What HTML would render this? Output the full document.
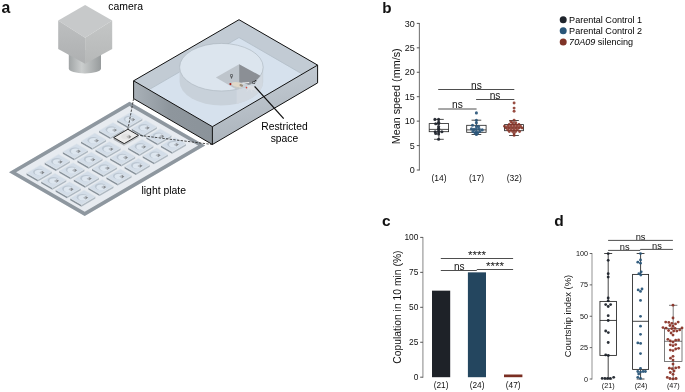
<!DOCTYPE html>
<html><head><meta charset="utf-8"><title>Figure</title>
<style>html,body{margin:0;padding:0;background:#fff}svg{display:block}</style></head>
<body>
<svg width="685" height="392" viewBox="0 0 685 392" font-family='"Liberation Sans", Arial, Helvetica, sans-serif'>
<defs>
<linearGradient id="cyl" x1="0" x2="1" y1="0" y2="0"><stop offset="0" stop-color="#a0a4a5"/><stop offset="0.4" stop-color="#cbcece"/><stop offset="1" stop-color="#979b9c"/></linearGradient>
<linearGradient id="camL" x1="0" x2="0" y1="0" y2="1"><stop offset="0" stop-color="#bdbfc0"/><stop offset="1" stop-color="#aeb0b1"/></linearGradient>
<linearGradient id="camR" x1="0" x2="0" y1="0" y2="1"><stop offset="0" stop-color="#c4c6c6"/><stop offset="1" stop-color="#b6b8b8"/></linearGradient>
<linearGradient id="boxR" x1="0" x2="0.25" y1="0" y2="1"><stop offset="0" stop-color="#c8d0d8"/><stop offset="1" stop-color="#abb3bb"/></linearGradient>
<linearGradient id="boxL" x1="0" x2="1" y1="0" y2="0"><stop offset="0" stop-color="#a9b1b8"/><stop offset="0.45" stop-color="#8e969d"/><stop offset="1" stop-color="#8b939a"/></linearGradient>
<clipPath id="topclip"><polygon points="239,19.7 133.6,80.8 212.4,126.7 317.6,65.1"/></clipPath>
</defs>
<rect width="685" height="392" fill="#fff"/>
<text x="1.60" y="13.00" font-size="15.8" text-anchor="start" fill="#111" font-weight="bold" >a</text>
<text x="108.30" y="9.50" font-size="10.4" text-anchor="start" fill="#000" font-weight="normal" >camera</text>
<path d="M68.8,50 L68.8,68.5 A16.1,5 0 0 0 101,68.5 L101,50 Z" fill="url(#cyl)"/>
<polygon points="85.10,5.10 112.20,20.40 85.10,37.80 58.20,20.40" fill="#c7c9ca" />
<polygon points="58.20,20.40 85.10,37.80 85.10,63.70 58.20,49.00" fill="url(#camL)" />
<polygon points="85.10,37.80 112.20,20.40 112.20,49.00 85.10,63.70" fill="url(#camR)" />
<polygon points="129.50,101.80 205.20,145.50 84.70,215.89 9.00,172.19" fill="#e7ebf0" />
<path d="M129.50,101.80 L205.20,145.50 L84.70,215.89 L9.00,172.19 Z M16.09,172.18 L84.69,211.77 L198.11,145.51 L129.51,105.92 Z" fill="#8e979f" fill-rule="evenodd"/>
<polygon points="117.27,120.01 128.53,126.51 128.53,128.51 117.27,122.01" fill="#87919a" />
<polygon points="128.53,126.51 142.34,118.44 142.34,120.44 128.53,128.51" fill="#aeb8c1" />
<polygon points="131.08,111.94 142.34,118.44 128.53,126.51 117.27,120.01" fill="#d3dde8" stroke="#dfe5eb" stroke-width="0.6" stroke-linejoin="round" />
<ellipse cx="129.30" cy="119.02" rx="5.6" ry="3.3" fill="#bcc7d2"/>
<ellipse cx="130.30" cy="119.62" rx="4.9" ry="2.8" fill="#dde6ef"/>
<polygon points="132.60,117.82 130.00,119.52 132.60,121.42" fill="#b4bac1" />
<polygon points="132.60,117.82 135.20,119.42 132.60,121.42" fill="#85898e" />
<polygon points="131.82,128.41 143.08,134.91 143.08,136.91 131.82,130.41" fill="#87919a" />
<polygon points="143.08,134.91 156.89,126.84 156.89,128.84 143.08,136.91" fill="#aeb8c1" />
<polygon points="145.63,120.34 156.89,126.84 143.08,134.91 131.82,128.41" fill="#d3dde8" stroke="#dfe5eb" stroke-width="0.6" stroke-linejoin="round" />
<ellipse cx="143.85" cy="127.42" rx="5.6" ry="3.3" fill="#bcc7d2"/>
<ellipse cx="144.85" cy="128.02" rx="4.9" ry="2.8" fill="#dde6ef"/>
<polygon points="147.15,126.22 144.55,127.92 147.15,129.82" fill="#b4bac1" />
<polygon points="147.15,126.22 149.75,127.82 147.15,129.82" fill="#85898e" />
<polygon points="146.37,136.81 157.62,143.31 157.62,145.31 146.37,138.81" fill="#87919a" />
<polygon points="157.62,143.31 171.44,135.23 171.44,137.23 157.62,145.31" fill="#aeb8c1" />
<polygon points="160.18,128.74 171.44,135.23 157.62,143.31 146.37,136.81" fill="#d3dde8" stroke="#dfe5eb" stroke-width="0.6" stroke-linejoin="round" />
<ellipse cx="158.40" cy="135.82" rx="5.6" ry="3.3" fill="#bcc7d2"/>
<ellipse cx="159.40" cy="136.42" rx="4.9" ry="2.8" fill="#dde6ef"/>
<polygon points="161.70,134.62 159.10,136.32 161.70,138.22" fill="#b4bac1" />
<polygon points="161.70,134.62 164.30,136.22 161.70,138.22" fill="#85898e" />
<polygon points="160.91,145.20 172.17,151.70 172.17,153.70 160.91,147.20" fill="#87919a" />
<polygon points="172.17,151.70 185.99,143.63 185.99,145.63 172.17,153.70" fill="#aeb8c1" />
<polygon points="174.73,137.13 185.99,143.63 172.17,151.70 160.91,145.20" fill="#d3dde8" stroke="#dfe5eb" stroke-width="0.6" stroke-linejoin="round" />
<ellipse cx="172.95" cy="144.22" rx="5.6" ry="3.3" fill="#bcc7d2"/>
<ellipse cx="173.95" cy="144.82" rx="4.9" ry="2.8" fill="#dde6ef"/>
<polygon points="176.25,143.02 173.65,144.72 176.25,146.62" fill="#b4bac1" />
<polygon points="176.25,143.02 178.85,144.62 176.25,146.62" fill="#85898e" />
<polygon points="99.14,130.60 110.39,137.10 110.39,139.10 99.14,132.60" fill="#87919a" />
<polygon points="110.39,137.10 124.21,129.03 124.21,131.03 110.39,139.10" fill="#aeb8c1" />
<polygon points="112.95,122.53 124.21,129.03 110.39,137.10 99.14,130.60" fill="#d3dde8" stroke="#dfe5eb" stroke-width="0.6" stroke-linejoin="round" />
<ellipse cx="111.17" cy="129.62" rx="5.6" ry="3.3" fill="#bcc7d2"/>
<ellipse cx="112.17" cy="130.22" rx="4.9" ry="2.8" fill="#dde6ef"/>
<polygon points="114.47,128.42 111.87,130.12 114.47,132.02" fill="#b4bac1" />
<polygon points="114.47,128.42 117.07,130.02 114.47,132.02" fill="#85898e" />
<polygon points="113.65,137.55 124.22,143.65 124.22,145.85 113.65,139.75" fill="#a9adb1" />
<polygon points="124.22,143.65 138.47,135.33 138.47,137.53 124.22,145.85" fill="#c2c6ca" />
<polygon points="127.90,129.23 138.47,135.33 124.22,143.65 113.65,137.55" fill="#ebebeb" stroke="#111" stroke-width="0.9" stroke-linejoin="round" />
<ellipse cx="126.06" cy="136.44" rx="4.8" ry="2.8" fill="#e2e2e2"/>
<polygon points="128.86,135.04 126.26,136.74 128.86,138.64" fill="#bdbdbd" />
<polygon points="128.86,135.04 131.46,136.64 128.86,138.64" fill="#8c8c8c" />
<polygon points="128.23,147.40 139.49,153.90 139.49,155.90 128.23,149.40" fill="#87919a" />
<polygon points="139.49,153.90 153.31,145.83 153.31,147.83 139.49,155.90" fill="#aeb8c1" />
<polygon points="142.05,139.33 153.31,145.83 139.49,153.90 128.23,147.40" fill="#d3dde8" stroke="#dfe5eb" stroke-width="0.6" stroke-linejoin="round" />
<ellipse cx="140.27" cy="146.41" rx="5.6" ry="3.3" fill="#bcc7d2"/>
<ellipse cx="141.27" cy="147.01" rx="4.9" ry="2.8" fill="#dde6ef"/>
<polygon points="143.57,145.21 140.97,146.91 143.57,148.81" fill="#b4bac1" />
<polygon points="143.57,145.21 146.17,146.81 143.57,148.81" fill="#85898e" />
<polygon points="142.78,155.80 154.04,162.30 154.04,164.30 142.78,157.80" fill="#87919a" />
<polygon points="154.04,162.30 167.86,154.23 167.86,156.23 154.04,164.30" fill="#aeb8c1" />
<polygon points="156.60,147.73 167.86,154.23 154.04,162.30 142.78,155.80" fill="#d3dde8" stroke="#dfe5eb" stroke-width="0.6" stroke-linejoin="round" />
<ellipse cx="154.82" cy="154.81" rx="5.6" ry="3.3" fill="#bcc7d2"/>
<ellipse cx="155.82" cy="155.41" rx="4.9" ry="2.8" fill="#dde6ef"/>
<polygon points="158.12,153.61 155.52,155.31 158.12,157.21" fill="#b4bac1" />
<polygon points="158.12,153.61 160.72,155.21 158.12,157.21" fill="#85898e" />
<polygon points="81.01,141.19 92.26,147.69 92.26,149.69 81.01,143.19" fill="#87919a" />
<polygon points="92.26,147.69 106.08,139.62 106.08,141.62 92.26,149.69" fill="#aeb8c1" />
<polygon points="94.82,133.12 106.08,139.62 92.26,147.69 81.01,141.19" fill="#d3dde8" stroke="#dfe5eb" stroke-width="0.6" stroke-linejoin="round" />
<ellipse cx="93.04" cy="140.21" rx="5.6" ry="3.3" fill="#bcc7d2"/>
<ellipse cx="94.04" cy="140.81" rx="4.9" ry="2.8" fill="#dde6ef"/>
<polygon points="96.34,139.01 93.74,140.71 96.34,142.61" fill="#b4bac1" />
<polygon points="96.34,139.01 98.94,140.61 96.34,142.61" fill="#85898e" />
<polygon points="95.55,149.59 106.81,156.09 106.81,158.09 95.55,151.59" fill="#87919a" />
<polygon points="106.81,156.09 120.63,148.02 120.63,150.02 106.81,158.09" fill="#aeb8c1" />
<polygon points="109.37,141.52 120.63,148.02 106.81,156.09 95.55,149.59" fill="#d3dde8" stroke="#dfe5eb" stroke-width="0.6" stroke-linejoin="round" />
<ellipse cx="107.59" cy="148.61" rx="5.6" ry="3.3" fill="#bcc7d2"/>
<ellipse cx="108.59" cy="149.21" rx="4.9" ry="2.8" fill="#dde6ef"/>
<polygon points="110.89,147.41 108.29,149.11 110.89,151.01" fill="#b4bac1" />
<polygon points="110.89,147.41 113.49,149.01 110.89,151.01" fill="#85898e" />
<polygon points="110.10,157.99 121.36,164.49 121.36,166.49 110.10,159.99" fill="#87919a" />
<polygon points="121.36,164.49 135.18,156.42 135.18,158.42 121.36,166.49" fill="#aeb8c1" />
<polygon points="123.92,149.92 135.18,156.42 121.36,164.49 110.10,157.99" fill="#d3dde8" stroke="#dfe5eb" stroke-width="0.6" stroke-linejoin="round" />
<ellipse cx="122.14" cy="157.01" rx="5.6" ry="3.3" fill="#bcc7d2"/>
<ellipse cx="123.14" cy="157.61" rx="4.9" ry="2.8" fill="#dde6ef"/>
<polygon points="125.44,155.81 122.84,157.51 125.44,159.41" fill="#b4bac1" />
<polygon points="125.44,155.81 128.04,157.41 125.44,159.41" fill="#85898e" />
<polygon points="124.65,166.39 135.91,172.89 135.91,174.89 124.65,168.39" fill="#87919a" />
<polygon points="135.91,172.89 149.72,164.82 149.72,166.82 135.91,174.89" fill="#aeb8c1" />
<polygon points="138.47,158.32 149.72,164.82 135.91,172.89 124.65,166.39" fill="#d3dde8" stroke="#dfe5eb" stroke-width="0.6" stroke-linejoin="round" />
<ellipse cx="136.69" cy="165.40" rx="5.6" ry="3.3" fill="#bcc7d2"/>
<ellipse cx="137.69" cy="166.00" rx="4.9" ry="2.8" fill="#dde6ef"/>
<polygon points="139.99,164.20 137.39,165.90 139.99,167.80" fill="#b4bac1" />
<polygon points="139.99,164.20 142.59,165.80 139.99,167.80" fill="#85898e" />
<polygon points="62.87,151.79 74.13,158.29 74.13,160.29 62.87,153.79" fill="#87919a" />
<polygon points="74.13,158.29 87.95,150.22 87.95,152.22 74.13,160.29" fill="#aeb8c1" />
<polygon points="76.69,143.72 87.95,150.22 74.13,158.29 62.87,151.79" fill="#d3dde8" stroke="#dfe5eb" stroke-width="0.6" stroke-linejoin="round" />
<ellipse cx="74.91" cy="150.80" rx="5.6" ry="3.3" fill="#bcc7d2"/>
<ellipse cx="75.91" cy="151.40" rx="4.9" ry="2.8" fill="#dde6ef"/>
<polygon points="78.21,149.60 75.61,151.30 78.21,153.20" fill="#b4bac1" />
<polygon points="78.21,149.60 80.81,151.20 78.21,153.20" fill="#85898e" />
<polygon points="77.42,160.19 88.68,166.68 88.68,168.68 77.42,162.19" fill="#87919a" />
<polygon points="88.68,166.68 102.50,158.61 102.50,160.61 88.68,168.68" fill="#aeb8c1" />
<polygon points="91.24,152.11 102.50,158.61 88.68,166.68 77.42,160.19" fill="#d3dde8" stroke="#dfe5eb" stroke-width="0.6" stroke-linejoin="round" />
<ellipse cx="89.46" cy="159.20" rx="5.6" ry="3.3" fill="#bcc7d2"/>
<ellipse cx="90.46" cy="159.80" rx="4.9" ry="2.8" fill="#dde6ef"/>
<polygon points="92.76,158.00 90.16,159.70 92.76,161.60" fill="#b4bac1" />
<polygon points="92.76,158.00 95.36,159.60 92.76,161.60" fill="#85898e" />
<polygon points="91.97,168.58 103.23,175.08 103.23,177.08 91.97,170.58" fill="#87919a" />
<polygon points="103.23,175.08 117.04,167.01 117.04,169.01 103.23,177.08" fill="#aeb8c1" />
<polygon points="105.79,160.51 117.04,167.01 103.23,175.08 91.97,168.58" fill="#d3dde8" stroke="#dfe5eb" stroke-width="0.6" stroke-linejoin="round" />
<ellipse cx="104.01" cy="167.60" rx="5.6" ry="3.3" fill="#bcc7d2"/>
<ellipse cx="105.01" cy="168.20" rx="4.9" ry="2.8" fill="#dde6ef"/>
<polygon points="107.31,166.40 104.71,168.10 107.31,170.00" fill="#b4bac1" />
<polygon points="107.31,166.40 109.91,168.00 107.31,170.00" fill="#85898e" />
<polygon points="106.52,176.98 117.78,183.48 117.78,185.48 106.52,178.98" fill="#87919a" />
<polygon points="117.78,183.48 131.59,175.41 131.59,177.41 117.78,185.48" fill="#aeb8c1" />
<polygon points="120.33,168.91 131.59,175.41 117.78,183.48 106.52,176.98" fill="#d3dde8" stroke="#dfe5eb" stroke-width="0.6" stroke-linejoin="round" />
<ellipse cx="118.56" cy="176.00" rx="5.6" ry="3.3" fill="#bcc7d2"/>
<ellipse cx="119.56" cy="176.60" rx="4.9" ry="2.8" fill="#dde6ef"/>
<polygon points="121.86,174.80 119.26,176.50 121.86,178.40" fill="#b4bac1" />
<polygon points="121.86,174.80 124.46,176.40 121.86,178.40" fill="#85898e" />
<polygon points="44.74,162.38 56.00,168.88 56.00,170.88 44.74,164.38" fill="#87919a" />
<polygon points="56.00,168.88 69.82,160.81 69.82,162.81 56.00,170.88" fill="#aeb8c1" />
<polygon points="58.56,154.31 69.82,160.81 56.00,168.88 44.74,162.38" fill="#d3dde8" stroke="#dfe5eb" stroke-width="0.6" stroke-linejoin="round" />
<ellipse cx="56.78" cy="161.39" rx="5.6" ry="3.3" fill="#bcc7d2"/>
<ellipse cx="57.78" cy="161.99" rx="4.9" ry="2.8" fill="#dde6ef"/>
<polygon points="60.08,160.19 57.48,161.89 60.08,163.79" fill="#b4bac1" />
<polygon points="60.08,160.19 62.68,161.79 60.08,163.79" fill="#85898e" />
<polygon points="59.29,170.78 70.55,177.28 70.55,179.28 59.29,172.78" fill="#87919a" />
<polygon points="70.55,177.28 84.36,169.21 84.36,171.21 70.55,179.28" fill="#aeb8c1" />
<polygon points="73.11,162.71 84.36,169.21 70.55,177.28 59.29,170.78" fill="#d3dde8" stroke="#dfe5eb" stroke-width="0.6" stroke-linejoin="round" />
<ellipse cx="71.33" cy="169.79" rx="5.6" ry="3.3" fill="#bcc7d2"/>
<ellipse cx="72.33" cy="170.39" rx="4.9" ry="2.8" fill="#dde6ef"/>
<polygon points="74.63,168.59 72.03,170.29 74.63,172.19" fill="#b4bac1" />
<polygon points="74.63,168.59 77.23,170.19 74.63,172.19" fill="#85898e" />
<polygon points="73.84,179.18 85.10,185.67 85.10,187.67 73.84,181.18" fill="#87919a" />
<polygon points="85.10,185.67 98.91,177.60 98.91,179.60 85.10,187.67" fill="#aeb8c1" />
<polygon points="87.65,171.11 98.91,177.60 85.10,185.67 73.84,179.18" fill="#d3dde8" stroke="#dfe5eb" stroke-width="0.6" stroke-linejoin="round" />
<ellipse cx="85.88" cy="178.19" rx="5.6" ry="3.3" fill="#bcc7d2"/>
<ellipse cx="86.88" cy="178.79" rx="4.9" ry="2.8" fill="#dde6ef"/>
<polygon points="89.18,176.99 86.58,178.69 89.18,180.59" fill="#b4bac1" />
<polygon points="89.18,176.99 91.78,178.59 89.18,180.59" fill="#85898e" />
<polygon points="88.39,187.57 99.65,194.07 99.65,196.07 88.39,189.57" fill="#87919a" />
<polygon points="99.65,194.07 113.46,186.00 113.46,188.00 99.65,196.07" fill="#aeb8c1" />
<polygon points="102.20,179.50 113.46,186.00 99.65,194.07 88.39,187.57" fill="#d3dde8" stroke="#dfe5eb" stroke-width="0.6" stroke-linejoin="round" />
<ellipse cx="100.43" cy="186.59" rx="5.6" ry="3.3" fill="#bcc7d2"/>
<ellipse cx="101.43" cy="187.19" rx="4.9" ry="2.8" fill="#dde6ef"/>
<polygon points="103.73,185.39 101.13,187.09 103.73,188.99" fill="#b4bac1" />
<polygon points="103.73,185.39 106.33,186.99 103.73,188.99" fill="#85898e" />
<polygon points="26.61,172.97 37.87,179.47 37.87,181.47 26.61,174.97" fill="#87919a" />
<polygon points="37.87,179.47 51.68,171.40 51.68,173.40 37.87,181.47" fill="#aeb8c1" />
<polygon points="40.43,164.90 51.68,171.40 37.87,179.47 26.61,172.97" fill="#d3dde8" stroke="#dfe5eb" stroke-width="0.6" stroke-linejoin="round" />
<ellipse cx="38.65" cy="171.99" rx="5.6" ry="3.3" fill="#bcc7d2"/>
<ellipse cx="39.65" cy="172.59" rx="4.9" ry="2.8" fill="#dde6ef"/>
<polygon points="41.95,170.79 39.35,172.49 41.95,174.39" fill="#b4bac1" />
<polygon points="41.95,170.79 44.55,172.39 41.95,174.39" fill="#85898e" />
<polygon points="41.16,181.37 52.42,187.87 52.42,189.87 41.16,183.37" fill="#87919a" />
<polygon points="52.42,187.87 66.23,179.80 66.23,181.80 52.42,189.87" fill="#aeb8c1" />
<polygon points="54.97,173.30 66.23,179.80 52.42,187.87 41.16,181.37" fill="#d3dde8" stroke="#dfe5eb" stroke-width="0.6" stroke-linejoin="round" />
<ellipse cx="53.20" cy="180.38" rx="5.6" ry="3.3" fill="#bcc7d2"/>
<ellipse cx="54.20" cy="180.98" rx="4.9" ry="2.8" fill="#dde6ef"/>
<polygon points="56.50,179.18 53.90,180.88 56.50,182.78" fill="#b4bac1" />
<polygon points="56.50,179.18 59.10,180.78 56.50,182.78" fill="#85898e" />
<polygon points="55.71,189.77 66.97,196.27 66.97,198.27 55.71,191.77" fill="#87919a" />
<polygon points="66.97,196.27 80.78,188.20 80.78,190.20 66.97,198.27" fill="#aeb8c1" />
<polygon points="69.52,181.70 80.78,188.20 66.97,196.27 55.71,189.77" fill="#d3dde8" stroke="#dfe5eb" stroke-width="0.6" stroke-linejoin="round" />
<ellipse cx="67.75" cy="188.78" rx="5.6" ry="3.3" fill="#bcc7d2"/>
<ellipse cx="68.75" cy="189.38" rx="4.9" ry="2.8" fill="#dde6ef"/>
<polygon points="71.05,187.58 68.45,189.28 71.05,191.18" fill="#b4bac1" />
<polygon points="71.05,187.58 73.65,189.18 71.05,191.18" fill="#85898e" />
<polygon points="70.26,198.17 81.52,204.67 81.52,206.67 70.26,200.17" fill="#87919a" />
<polygon points="81.52,204.67 95.33,196.60 95.33,198.60 81.52,206.67" fill="#aeb8c1" />
<polygon points="84.07,190.10 95.33,196.60 81.52,204.67 70.26,198.17" fill="#d3dde8" stroke="#dfe5eb" stroke-width="0.6" stroke-linejoin="round" />
<ellipse cx="82.29" cy="197.18" rx="5.6" ry="3.3" fill="#bcc7d2"/>
<ellipse cx="83.29" cy="197.78" rx="4.9" ry="2.8" fill="#dde6ef"/>
<polygon points="85.59,195.98 82.99,197.68 85.59,199.58" fill="#b4bac1" />
<polygon points="85.59,195.98 88.19,197.58 85.59,199.58" fill="#85898e" />
<line x1="133.60" y1="98.60" x2="127.90" y2="129.23" stroke="#222" stroke-width="0.8" stroke-dasharray="2.4 1.3"/>
<line x1="212.40" y1="144.50" x2="138.97" y2="135.33" stroke="#222" stroke-width="0.8" stroke-dasharray="2.4 1.3"/>
<polygon points="239.00,19.70 317.60,65.10 212.40,126.70 133.60,80.80" fill="#c2cbd4" />
<g clip-path="url(#topclip)">
<polygon points="239.00,37.50 317.60,82.90 212.40,144.50 133.60,98.60" fill="#d6e1ed" stroke="#b4bfca" stroke-width="0.9" stroke-linejoin="round" />
</g>
<path d="M179.60,67.20 L179.60,81.70 A41.8,23.8 0 0 0 263.20,81.70 L263.20,67.20 Z" fill="#c8d1da"/>
<clipPath id="band"><rect x="236.6" y="60" width="26" height="60"/></clipPath>
<path clip-path="url(#band)" d="M179.60,67.20 L179.60,81.70 A41.8,23.8 0 0 0 263.20,81.70 L263.20,67.20 Z" fill="#d1d8e0"/>
<ellipse cx="221.4" cy="67.2" rx="41.8" ry="23.8" fill="#dce5ee" stroke="#aab3bc" stroke-width="0.6"/>
<clipPath id="ctop"><ellipse cx="221.4" cy="67.2" rx="41.8" ry="23.8"/></clipPath>
<g clip-path="url(#ctop)">
<polygon points="239.10,64.20 261.20,76.20 262.00,80.00 239.10,93.00" fill="#c9d0d7" />
<polygon points="239.10,64.20 261.20,76.20 259.20,80.20 255.60,84.80 249.50,85.20 243.40,82.70 239.10,82.60" fill="#8b8f95" />
<polygon points="239.10,64.20 215.90,77.40 239.10,90.90" fill="#bec5cc" />
</g>
<path d="M179.60,67.20 A41.8,23.8 0 0 0 263.20,67.20 L263.20,81.70 A41.8,23.8 0 0 1 179.60,81.70 Z" fill="#bfcad4" fill-opacity="0.0"/>
<g>
<ellipse cx="237.3" cy="84.6" rx="6.1" ry="2.4" fill="#e0d8c9" transform="rotate(10 237.3 84.6)"/>
<ellipse cx="241.3" cy="85.3" rx="1.9" ry="1.2" fill="#9a8f80" transform="rotate(20 241.3 85.3)"/>
<path d="M234.2,86.2 L235.3,88.4 M238.5,87 L240.6,88.7 M236.4,86.6 L237.2,88.6" stroke="#d9d0c0" stroke-width="0.6" fill="none"/>
<path d="M242.4,83.1 L249.2,82.5" stroke="#f6f6f6" stroke-width="0.9" fill="none"/>
<circle cx="230.4" cy="84.1" r="1.05" fill="#a51d17"/>
<ellipse cx="250.8" cy="87.6" rx="4.2" ry="2.0" fill="#dfe1e4" fill-opacity="0.9" transform="rotate(14 250.8 87.6)"/>
<circle cx="246.5" cy="87.6" r="0.85" fill="#d24b40"/>
<path d="M249,88.5 L247,91.5 M251,89.5 L252,92.5 M253,89 L256,91" stroke="#e3e5e8" stroke-width="0.5" fill="none"/>
</g>
<text x="231.40" y="78.20" font-size="5.5" text-anchor="middle" fill="#111" font-weight="normal" font-family="DejaVu Sans, sans-serif">♀</text>
<text x="254.30" y="84.00" font-size="5.5" text-anchor="middle" fill="#111" font-weight="normal" font-family="DejaVu Sans, sans-serif">♂</text>
<polygon points="133.60,80.80 212.40,126.70 212.40,144.50 133.60,98.60" fill="url(#boxL)" />
<polygon points="212.40,126.70 317.60,65.10 317.60,82.90 212.40,144.50" fill="url(#boxR)" />
<path d="M239,19.7 L317.6,65.1 L317.6,82.89999999999999 L212.4,144.5 L133.6,98.6 L133.6,80.8 Z M133.6,80.8 L212.4,126.7 L317.6,65.1 M212.4,126.7 L212.4,144.5" fill="none" stroke="#111" stroke-width="1" stroke-linejoin="round"/>
<line x1="254.60" y1="86.40" x2="283.70" y2="118.60" stroke="#111" stroke-width="1.3" />
<text x="284.50" y="130.00" font-size="10.3" text-anchor="middle" fill="#000" font-weight="normal" >Restricted</text>
<text x="284.40" y="141.80" font-size="10.3" text-anchor="middle" fill="#000" font-weight="normal" >space</text>
<text x="141.50" y="194.00" font-size="10.4" text-anchor="start" fill="#000" font-weight="normal" >light plate</text>
<text x="382.30" y="13.00" font-size="15.2" text-anchor="start" fill="#111" font-weight="bold" >b</text>
<line x1="419.40" y1="22.90" x2="419.40" y2="170.50" stroke="#7a7a7a" stroke-width="1.1" />
<line x1="416.80" y1="170.00" x2="419.40" y2="170.00" stroke="#444" stroke-width="0.9" />
<text x="414.80" y="173.20" font-size="9" text-anchor="end" fill="#111" font-weight="normal" >0</text>
<line x1="416.80" y1="145.57" x2="419.40" y2="145.57" stroke="#444" stroke-width="0.9" />
<text x="414.80" y="148.77" font-size="9" text-anchor="end" fill="#111" font-weight="normal" >5</text>
<line x1="416.80" y1="121.13" x2="419.40" y2="121.13" stroke="#444" stroke-width="0.9" />
<text x="414.80" y="124.33" font-size="9" text-anchor="end" fill="#111" font-weight="normal" >10</text>
<line x1="416.80" y1="96.70" x2="419.40" y2="96.70" stroke="#444" stroke-width="0.9" />
<text x="414.80" y="99.90" font-size="9" text-anchor="end" fill="#111" font-weight="normal" >15</text>
<line x1="416.80" y1="72.27" x2="419.40" y2="72.27" stroke="#444" stroke-width="0.9" />
<text x="414.80" y="75.47" font-size="9" text-anchor="end" fill="#111" font-weight="normal" >20</text>
<line x1="416.80" y1="47.83" x2="419.40" y2="47.83" stroke="#444" stroke-width="0.9" />
<text x="414.80" y="51.03" font-size="9" text-anchor="end" fill="#111" font-weight="normal" >25</text>
<line x1="416.80" y1="23.40" x2="419.40" y2="23.40" stroke="#444" stroke-width="0.9" />
<text x="414.80" y="26.60" font-size="9" text-anchor="end" fill="#111" font-weight="normal" >30</text>
<text transform="translate(400.2,96.3) rotate(-90)" font-size="10.8" text-anchor="middle" fill="#111">Mean speed (mm/s)</text>
<line x1="438.90" y1="119.40" x2="438.90" y2="123.60" stroke="#222" stroke-width="0.8" />
<line x1="438.90" y1="131.70" x2="438.90" y2="139.30" stroke="#222" stroke-width="0.8" />
<line x1="434.05" y1="119.40" x2="443.75" y2="119.40" stroke="#222" stroke-width="0.8" />
<line x1="434.05" y1="139.30" x2="443.75" y2="139.30" stroke="#222" stroke-width="0.8" />
<rect x="429.20" y="123.60" width="19.40" height="8.10" fill="none" stroke="#222" stroke-width="0.8"/>
<line x1="429.20" y1="129.40" x2="448.60" y2="129.40" stroke="#222" stroke-width="0.8" />
<line x1="476.40" y1="120.20" x2="476.40" y2="125.30" stroke="#222" stroke-width="0.8" />
<line x1="476.40" y1="132.30" x2="476.40" y2="134.50" stroke="#222" stroke-width="0.8" />
<line x1="471.55" y1="120.20" x2="481.25" y2="120.20" stroke="#222" stroke-width="0.8" />
<line x1="471.55" y1="134.50" x2="481.25" y2="134.50" stroke="#222" stroke-width="0.8" />
<rect x="466.70" y="125.30" width="19.40" height="7.00" fill="none" stroke="#222" stroke-width="0.8"/>
<line x1="466.70" y1="129.90" x2="486.10" y2="129.90" stroke="#222" stroke-width="0.8" />
<line x1="514.00" y1="120.50" x2="514.00" y2="124.60" stroke="#222" stroke-width="0.8" />
<line x1="514.00" y1="130.70" x2="514.00" y2="135.50" stroke="#222" stroke-width="0.8" />
<line x1="509.15" y1="120.50" x2="518.85" y2="120.50" stroke="#222" stroke-width="0.8" />
<line x1="509.15" y1="135.50" x2="518.85" y2="135.50" stroke="#222" stroke-width="0.8" />
<rect x="504.60" y="124.60" width="18.80" height="6.10" fill="none" stroke="#222" stroke-width="0.8"/>
<line x1="504.60" y1="127.90" x2="523.40" y2="127.90" stroke="#222" stroke-width="0.8" />
<circle cx="434.90" cy="119.40" r="1.55" fill="#1f242c" fill-opacity="0.92"/>
<circle cx="438.60" cy="119.40" r="1.55" fill="#1f242c" fill-opacity="0.92"/>
<circle cx="438.60" cy="122.30" r="1.55" fill="#1f242c" fill-opacity="0.92"/>
<circle cx="435.70" cy="123.80" r="1.55" fill="#1f242c" fill-opacity="0.92"/>
<circle cx="438.60" cy="123.80" r="1.55" fill="#1f242c" fill-opacity="0.92"/>
<circle cx="438.60" cy="128.40" r="1.55" fill="#1f242c" fill-opacity="0.92"/>
<circle cx="438.60" cy="129.90" r="1.55" fill="#1f242c" fill-opacity="0.92"/>
<circle cx="435.20" cy="131.70" r="1.55" fill="#1f242c" fill-opacity="0.92"/>
<circle cx="441.90" cy="131.70" r="1.55" fill="#1f242c" fill-opacity="0.92"/>
<circle cx="438.60" cy="132.00" r="1.55" fill="#1f242c" fill-opacity="0.92"/>
<circle cx="435.70" cy="133.50" r="1.55" fill="#1f242c" fill-opacity="0.92"/>
<circle cx="438.60" cy="134.00" r="1.55" fill="#1f242c" fill-opacity="0.92"/>
<circle cx="438.60" cy="139.30" r="1.55" fill="#1f242c" fill-opacity="0.92"/>
<circle cx="438.60" cy="126.50" r="1.55" fill="#1f242c" fill-opacity="0.92"/>
<circle cx="476.40" cy="112.90" r="1.55" fill="#2a5679" fill-opacity="0.92"/>
<circle cx="476.40" cy="120.20" r="1.55" fill="#2a5679" fill-opacity="0.92"/>
<circle cx="476.40" cy="122.80" r="1.55" fill="#2a5679" fill-opacity="0.92"/>
<circle cx="472.50" cy="125.30" r="1.55" fill="#2a5679" fill-opacity="0.92"/>
<circle cx="476.40" cy="126.40" r="1.55" fill="#2a5679" fill-opacity="0.92"/>
<circle cx="471.50" cy="128.90" r="1.55" fill="#2a5679" fill-opacity="0.92"/>
<circle cx="474.00" cy="129.40" r="1.55" fill="#2a5679" fill-opacity="0.92"/>
<circle cx="476.40" cy="128.90" r="1.55" fill="#2a5679" fill-opacity="0.92"/>
<circle cx="479.20" cy="128.90" r="1.55" fill="#2a5679" fill-opacity="0.92"/>
<circle cx="482.20" cy="129.90" r="1.55" fill="#2a5679" fill-opacity="0.92"/>
<circle cx="473.00" cy="131.50" r="1.55" fill="#2a5679" fill-opacity="0.92"/>
<circle cx="476.40" cy="131.50" r="1.55" fill="#2a5679" fill-opacity="0.92"/>
<circle cx="479.70" cy="131.50" r="1.55" fill="#2a5679" fill-opacity="0.92"/>
<circle cx="475.10" cy="133.00" r="1.55" fill="#2a5679" fill-opacity="0.92"/>
<circle cx="477.60" cy="133.00" r="1.55" fill="#2a5679" fill-opacity="0.92"/>
<circle cx="476.40" cy="134.50" r="1.55" fill="#2a5679" fill-opacity="0.92"/>
<circle cx="478.50" cy="126.50" r="1.55" fill="#2a5679" fill-opacity="0.92"/>
<circle cx="514.10" cy="103.00" r="1.45" fill="#8a3428" fill-opacity="0.88"/>
<circle cx="514.10" cy="108.10" r="1.45" fill="#8a3428" fill-opacity="0.88"/>
<circle cx="514.10" cy="111.20" r="1.45" fill="#8a3428" fill-opacity="0.88"/>
<circle cx="514.10" cy="120.10" r="1.45" fill="#8a3428" fill-opacity="0.88"/>
<circle cx="510.90" cy="121.80" r="1.45" fill="#8a3428" fill-opacity="0.88"/>
<circle cx="512.50" cy="122.60" r="1.45" fill="#8a3428" fill-opacity="0.88"/>
<circle cx="515.70" cy="122.60" r="1.45" fill="#8a3428" fill-opacity="0.88"/>
<circle cx="509.30" cy="124.40" r="1.45" fill="#8a3428" fill-opacity="0.88"/>
<circle cx="512.50" cy="124.40" r="1.45" fill="#8a3428" fill-opacity="0.88"/>
<circle cx="515.70" cy="124.40" r="1.45" fill="#8a3428" fill-opacity="0.88"/>
<circle cx="518.90" cy="124.40" r="1.45" fill="#8a3428" fill-opacity="0.88"/>
<circle cx="504.50" cy="126.20" r="1.45" fill="#8a3428" fill-opacity="0.88"/>
<circle cx="507.70" cy="126.20" r="1.45" fill="#8a3428" fill-opacity="0.88"/>
<circle cx="510.90" cy="126.20" r="1.45" fill="#8a3428" fill-opacity="0.88"/>
<circle cx="514.10" cy="126.20" r="1.45" fill="#8a3428" fill-opacity="0.88"/>
<circle cx="517.30" cy="126.20" r="1.45" fill="#8a3428" fill-opacity="0.88"/>
<circle cx="520.50" cy="126.20" r="1.45" fill="#8a3428" fill-opacity="0.88"/>
<circle cx="506.10" cy="128.00" r="1.45" fill="#8a3428" fill-opacity="0.88"/>
<circle cx="509.30" cy="128.00" r="1.45" fill="#8a3428" fill-opacity="0.88"/>
<circle cx="512.50" cy="128.00" r="1.45" fill="#8a3428" fill-opacity="0.88"/>
<circle cx="515.70" cy="128.00" r="1.45" fill="#8a3428" fill-opacity="0.88"/>
<circle cx="518.90" cy="128.00" r="1.45" fill="#8a3428" fill-opacity="0.88"/>
<circle cx="522.10" cy="128.00" r="1.45" fill="#8a3428" fill-opacity="0.88"/>
<circle cx="507.70" cy="129.80" r="1.45" fill="#8a3428" fill-opacity="0.88"/>
<circle cx="510.90" cy="129.80" r="1.45" fill="#8a3428" fill-opacity="0.88"/>
<circle cx="514.10" cy="129.80" r="1.45" fill="#8a3428" fill-opacity="0.88"/>
<circle cx="517.30" cy="129.80" r="1.45" fill="#8a3428" fill-opacity="0.88"/>
<circle cx="509.30" cy="131.60" r="1.45" fill="#8a3428" fill-opacity="0.88"/>
<circle cx="512.50" cy="131.60" r="1.45" fill="#8a3428" fill-opacity="0.88"/>
<circle cx="515.70" cy="131.60" r="1.45" fill="#8a3428" fill-opacity="0.88"/>
<circle cx="519.60" cy="131.60" r="1.45" fill="#8a3428" fill-opacity="0.88"/>
<circle cx="514.10" cy="133.60" r="1.45" fill="#8a3428" fill-opacity="0.88"/>
<circle cx="514.10" cy="135.40" r="1.45" fill="#8a3428" fill-opacity="0.88"/>
<line x1="438.20" y1="109.00" x2="476.60" y2="109.00" stroke="#3a3a3a" stroke-width="0.9" />
<line x1="476.10" y1="99.50" x2="514.30" y2="99.50" stroke="#3a3a3a" stroke-width="0.9" />
<line x1="438.20" y1="89.50" x2="514.30" y2="89.50" stroke="#3a3a3a" stroke-width="0.9" />
<text x="457.50" y="108.40" font-size="10.2" text-anchor="middle" fill="#111" font-weight="normal" >ns</text>
<text x="495.10" y="98.60" font-size="10.2" text-anchor="middle" fill="#111" font-weight="normal" >ns</text>
<text x="476.40" y="88.60" font-size="10.2" text-anchor="middle" fill="#111" font-weight="normal" >ns</text>
<text x="439.00" y="181.30" font-size="8.5" text-anchor="middle" fill="#111" font-weight="normal" >(14)</text>
<text x="476.60" y="181.30" font-size="8.5" text-anchor="middle" fill="#111" font-weight="normal" >(17)</text>
<text x="514.30" y="181.30" font-size="8.5" text-anchor="middle" fill="#111" font-weight="normal" >(32)</text>
<circle cx="563.20" cy="19.80" r="3.5" fill="#1f242c" />
<text x="569.10" y="23.00" font-size="9.07" text-anchor="start" fill="#000" font-weight="normal" >Parental Control 1</text>
<circle cx="563.20" cy="30.85" r="3.5" fill="#2a5679" />
<text x="569.10" y="34.05" font-size="9.07" text-anchor="start" fill="#000" font-weight="normal" >Parental Control 2</text>
<circle cx="563.20" cy="41.90" r="3.5" fill="#7f3327" />
<text x="569.10" y="45.10" font-size="9.07" text-anchor="start" fill="#000" font-weight="normal" ><tspan font-style="italic">70A09</tspan> silencing</text>
<text x="382.00" y="226.20" font-size="15.4" text-anchor="start" fill="#111" font-weight="bold" >c</text>
<line x1="422.90" y1="236.90" x2="422.90" y2="377.70" stroke="#9a9a9a" stroke-width="1.2" />
<line x1="420.20" y1="377.20" x2="422.90" y2="377.20" stroke="#444" stroke-width="0.9" />
<text x="418.40" y="380.10" font-size="8.4" text-anchor="end" fill="#111" font-weight="normal" >0</text>
<line x1="420.20" y1="342.25" x2="422.90" y2="342.25" stroke="#444" stroke-width="0.9" />
<text x="418.40" y="345.15" font-size="8.4" text-anchor="end" fill="#111" font-weight="normal" >25</text>
<line x1="420.20" y1="307.30" x2="422.90" y2="307.30" stroke="#444" stroke-width="0.9" />
<text x="418.40" y="310.20" font-size="8.4" text-anchor="end" fill="#111" font-weight="normal" >50</text>
<line x1="420.20" y1="272.35" x2="422.90" y2="272.35" stroke="#444" stroke-width="0.9" />
<text x="418.40" y="275.25" font-size="8.4" text-anchor="end" fill="#111" font-weight="normal" >75</text>
<line x1="420.20" y1="237.40" x2="422.90" y2="237.40" stroke="#444" stroke-width="0.9" />
<text x="418.40" y="240.30" font-size="8.4" text-anchor="end" fill="#111" font-weight="normal" >100</text>
<text transform="translate(400.9,307.1) rotate(-90)" font-size="10.35" text-anchor="middle" fill="#111">Copulation in 10 min (%)</text>
<rect x="432" y="290.66" width="18.2" height="86.54" fill="#1e2228"/>
<rect x="467.9" y="272.35" width="18.1" height="104.85" fill="#24465f"/>
<rect x="504" y="374.5" width="18.4" height="2.70" fill="#7a2e22"/>
<line x1="440.80" y1="258.50" x2="513.10" y2="258.50" stroke="#3a3a3a" stroke-width="0.9" />
<path d="M440.8,270.5 L476.6,270.5 L477.1,269.5 L513.1,269.5" fill="none" stroke="#3a3a3a" stroke-width="0.9"/>
<text x="459.20" y="270.30" font-size="10" text-anchor="middle" fill="#111" font-weight="normal" >ns</text>
<text x="477.00" y="259.00" font-size="11.6" text-anchor="middle" fill="#111" font-weight="normal" >****</text>
<text x="495.10" y="270.00" font-size="11.6" text-anchor="middle" fill="#111" font-weight="normal" >****</text>
<text x="441.10" y="388.40" font-size="8.3" text-anchor="middle" fill="#111" font-weight="normal" >(21)</text>
<text x="477.10" y="388.40" font-size="8.3" text-anchor="middle" fill="#111" font-weight="normal" >(24)</text>
<text x="513.20" y="388.40" font-size="8.3" text-anchor="middle" fill="#111" font-weight="normal" >(47)</text>
<text x="554.20" y="226.00" font-size="15.5" text-anchor="start" fill="#111" font-weight="bold" >d</text>
<line x1="592.00" y1="253.00" x2="592.00" y2="379.50" stroke="#a5a5a5" stroke-width="1.2" />
<line x1="589.70" y1="379.00" x2="592.00" y2="379.00" stroke="#444" stroke-width="0.8" />
<text x="588.10" y="381.60" font-size="7.2" text-anchor="end" fill="#111" font-weight="normal" >0</text>
<line x1="589.70" y1="347.62" x2="592.00" y2="347.62" stroke="#444" stroke-width="0.8" />
<text x="588.10" y="350.23" font-size="7.2" text-anchor="end" fill="#111" font-weight="normal" >25</text>
<line x1="589.70" y1="316.25" x2="592.00" y2="316.25" stroke="#444" stroke-width="0.8" />
<text x="588.10" y="318.85" font-size="7.2" text-anchor="end" fill="#111" font-weight="normal" >50</text>
<line x1="589.70" y1="284.88" x2="592.00" y2="284.88" stroke="#444" stroke-width="0.8" />
<text x="588.10" y="287.48" font-size="7.2" text-anchor="end" fill="#111" font-weight="normal" >75</text>
<line x1="589.70" y1="253.50" x2="592.00" y2="253.50" stroke="#444" stroke-width="0.8" />
<text x="588.10" y="256.10" font-size="7.2" text-anchor="end" fill="#111" font-weight="normal" >100</text>
<text transform="translate(571,316) rotate(-90)" font-size="9.4" text-anchor="middle" fill="#111">Courtship index (%)</text>
<line x1="608.20" y1="253.50" x2="608.20" y2="301.40" stroke="#222" stroke-width="0.85" />
<line x1="608.20" y1="355.40" x2="608.20" y2="379.00" stroke="#222" stroke-width="0.85" />
<line x1="604.20" y1="253.50" x2="612.20" y2="253.50" stroke="#222" stroke-width="0.85" />
<line x1="604.20" y1="379.00" x2="612.20" y2="379.00" stroke="#222" stroke-width="0.85" />
<rect x="599.95" y="301.40" width="16.50" height="54.00" fill="none" stroke="#222" stroke-width="0.85"/>
<line x1="599.95" y1="320.45" x2="616.45" y2="320.45" stroke="#222" stroke-width="0.85" />
<line x1="640.58" y1="253.50" x2="640.58" y2="274.40" stroke="#222" stroke-width="0.85" />
<line x1="640.58" y1="369.40" x2="640.58" y2="379.00" stroke="#222" stroke-width="0.85" />
<line x1="636.68" y1="253.50" x2="644.48" y2="253.50" stroke="#222" stroke-width="0.85" />
<line x1="636.68" y1="379.00" x2="644.48" y2="379.00" stroke="#222" stroke-width="0.85" />
<rect x="632.58" y="274.40" width="16.00" height="95.00" fill="none" stroke="#222" stroke-width="0.85"/>
<line x1="632.58" y1="321.30" x2="648.58" y2="321.30" stroke="#222" stroke-width="0.85" />
<line x1="673.20" y1="305.30" x2="673.20" y2="328.50" stroke="#444" stroke-width="0.7" />
<line x1="673.20" y1="361.50" x2="673.20" y2="379.00" stroke="#444" stroke-width="0.7" />
<line x1="669.00" y1="305.30" x2="677.40" y2="305.30" stroke="#444" stroke-width="0.7" />
<line x1="669.00" y1="379.00" x2="677.40" y2="379.00" stroke="#444" stroke-width="0.7" />
<rect x="664.40" y="328.50" width="17.60" height="33.00" fill="none" stroke="#444" stroke-width="0.7"/>
<line x1="664.40" y1="341.30" x2="682.00" y2="341.30" stroke="#444" stroke-width="0.7" />
<circle cx="608.20" cy="253.60" r="1.42" fill="#1f242c" fill-opacity="0.95"/>
<circle cx="608.20" cy="260.30" r="1.42" fill="#1f242c" fill-opacity="0.95"/>
<circle cx="608.20" cy="273.70" r="1.42" fill="#1f242c" fill-opacity="0.95"/>
<circle cx="608.20" cy="277.10" r="1.42" fill="#1f242c" fill-opacity="0.95"/>
<circle cx="608.20" cy="297.90" r="1.42" fill="#1f242c" fill-opacity="0.95"/>
<circle cx="608.20" cy="300.80" r="1.42" fill="#1f242c" fill-opacity="0.95"/>
<circle cx="605.70" cy="304.60" r="1.42" fill="#1f242c" fill-opacity="0.95"/>
<circle cx="608.20" cy="306.50" r="1.42" fill="#1f242c" fill-opacity="0.95"/>
<circle cx="610.60" cy="304.60" r="1.42" fill="#1f242c" fill-opacity="0.95"/>
<circle cx="608.20" cy="315.70" r="1.42" fill="#1f242c" fill-opacity="0.95"/>
<circle cx="608.20" cy="320.50" r="1.42" fill="#1f242c" fill-opacity="0.95"/>
<circle cx="605.70" cy="331.00" r="1.42" fill="#1f242c" fill-opacity="0.95"/>
<circle cx="608.30" cy="332.60" r="1.42" fill="#1f242c" fill-opacity="0.95"/>
<circle cx="608.20" cy="342.50" r="1.42" fill="#1f242c" fill-opacity="0.95"/>
<circle cx="605.70" cy="354.90" r="1.42" fill="#1f242c" fill-opacity="0.95"/>
<circle cx="608.30" cy="355.50" r="1.42" fill="#1f242c" fill-opacity="0.95"/>
<circle cx="602.20" cy="378.40" r="1.42" fill="#1f242c" fill-opacity="0.95"/>
<circle cx="604.90" cy="378.40" r="1.42" fill="#1f242c" fill-opacity="0.95"/>
<circle cx="607.60" cy="378.40" r="1.42" fill="#1f242c" fill-opacity="0.95"/>
<circle cx="610.30" cy="378.40" r="1.42" fill="#1f242c" fill-opacity="0.95"/>
<circle cx="613.70" cy="377.30" r="1.42" fill="#1f242c" fill-opacity="0.95"/>
<circle cx="640.50" cy="253.60" r="1.42" fill="#2a5679" fill-opacity="0.95"/>
<circle cx="640.50" cy="259.90" r="1.42" fill="#2a5679" fill-opacity="0.95"/>
<circle cx="637.80" cy="262.20" r="1.42" fill="#2a5679" fill-opacity="0.95"/>
<circle cx="640.50" cy="263.20" r="1.42" fill="#2a5679" fill-opacity="0.95"/>
<circle cx="641.20" cy="271.80" r="1.42" fill="#2a5679" fill-opacity="0.95"/>
<circle cx="638.90" cy="273.70" r="1.42" fill="#2a5679" fill-opacity="0.95"/>
<circle cx="640.80" cy="275.00" r="1.42" fill="#2a5679" fill-opacity="0.95"/>
<circle cx="642.00" cy="289.00" r="1.42" fill="#2a5679" fill-opacity="0.95"/>
<circle cx="638.20" cy="289.90" r="1.42" fill="#2a5679" fill-opacity="0.95"/>
<circle cx="640.50" cy="291.40" r="1.42" fill="#2a5679" fill-opacity="0.95"/>
<circle cx="640.50" cy="300.40" r="1.42" fill="#2a5679" fill-opacity="0.95"/>
<circle cx="640.50" cy="316.30" r="1.42" fill="#2a5679" fill-opacity="0.95"/>
<circle cx="640.50" cy="326.20" r="1.42" fill="#2a5679" fill-opacity="0.95"/>
<circle cx="640.50" cy="334.30" r="1.42" fill="#2a5679" fill-opacity="0.95"/>
<circle cx="637.80" cy="342.90" r="1.42" fill="#2a5679" fill-opacity="0.95"/>
<circle cx="640.60" cy="343.40" r="1.42" fill="#2a5679" fill-opacity="0.95"/>
<circle cx="640.50" cy="353.60" r="1.42" fill="#2a5679" fill-opacity="0.95"/>
<circle cx="640.50" cy="368.30" r="1.42" fill="#2a5679" fill-opacity="0.95"/>
<circle cx="637.80" cy="371.50" r="1.42" fill="#2a5679" fill-opacity="0.95"/>
<circle cx="640.50" cy="372.10" r="1.42" fill="#2a5679" fill-opacity="0.95"/>
<circle cx="643.10" cy="371.50" r="1.42" fill="#2a5679" fill-opacity="0.95"/>
<circle cx="645.40" cy="371.50" r="1.42" fill="#2a5679" fill-opacity="0.95"/>
<circle cx="638.70" cy="374.00" r="1.42" fill="#2a5679" fill-opacity="0.95"/>
<circle cx="637.80" cy="377.30" r="1.42" fill="#2a5679" fill-opacity="0.95"/>
<circle cx="640.50" cy="378.40" r="1.42" fill="#2a5679" fill-opacity="0.95"/>
<circle cx="673.00" cy="305.20" r="1.42" fill="#8a3428" fill-opacity="0.95"/>
<circle cx="673.00" cy="318.00" r="1.42" fill="#8a3428" fill-opacity="0.95"/>
<circle cx="665.70" cy="322.10" r="1.42" fill="#8a3428" fill-opacity="0.95"/>
<circle cx="668.80" cy="322.40" r="1.42" fill="#8a3428" fill-opacity="0.95"/>
<circle cx="671.90" cy="323.30" r="1.42" fill="#8a3428" fill-opacity="0.95"/>
<circle cx="675.50" cy="323.90" r="1.42" fill="#8a3428" fill-opacity="0.95"/>
<circle cx="678.20" cy="322.10" r="1.42" fill="#8a3428" fill-opacity="0.95"/>
<circle cx="669.90" cy="325.50" r="1.42" fill="#8a3428" fill-opacity="0.95"/>
<circle cx="673.00" cy="326.20" r="1.42" fill="#8a3428" fill-opacity="0.95"/>
<circle cx="663.00" cy="327.60" r="1.42" fill="#8a3428" fill-opacity="0.95"/>
<circle cx="666.10" cy="328.20" r="1.42" fill="#8a3428" fill-opacity="0.95"/>
<circle cx="671.70" cy="328.70" r="1.42" fill="#8a3428" fill-opacity="0.95"/>
<circle cx="675.10" cy="328.40" r="1.42" fill="#8a3428" fill-opacity="0.95"/>
<circle cx="682.00" cy="327.90" r="1.42" fill="#8a3428" fill-opacity="0.95"/>
<circle cx="668.60" cy="330.50" r="1.42" fill="#8a3428" fill-opacity="0.95"/>
<circle cx="673.70" cy="331.00" r="1.42" fill="#8a3428" fill-opacity="0.95"/>
<circle cx="676.80" cy="331.00" r="1.42" fill="#8a3428" fill-opacity="0.95"/>
<circle cx="679.70" cy="329.90" r="1.42" fill="#8a3428" fill-opacity="0.95"/>
<circle cx="671.10" cy="333.00" r="1.42" fill="#8a3428" fill-opacity="0.95"/>
<circle cx="673.00" cy="335.10" r="1.42" fill="#8a3428" fill-opacity="0.95"/>
<circle cx="667.90" cy="339.30" r="1.42" fill="#8a3428" fill-opacity="0.95"/>
<circle cx="670.30" cy="341.00" r="1.42" fill="#8a3428" fill-opacity="0.95"/>
<circle cx="673.00" cy="342.00" r="1.42" fill="#8a3428" fill-opacity="0.95"/>
<circle cx="675.70" cy="340.20" r="1.42" fill="#8a3428" fill-opacity="0.95"/>
<circle cx="678.60" cy="339.90" r="1.42" fill="#8a3428" fill-opacity="0.95"/>
<circle cx="670.30" cy="344.80" r="1.42" fill="#8a3428" fill-opacity="0.95"/>
<circle cx="673.00" cy="345.70" r="1.42" fill="#8a3428" fill-opacity="0.95"/>
<circle cx="675.70" cy="344.60" r="1.42" fill="#8a3428" fill-opacity="0.95"/>
<circle cx="670.30" cy="350.10" r="1.42" fill="#8a3428" fill-opacity="0.95"/>
<circle cx="673.00" cy="350.60" r="1.42" fill="#8a3428" fill-opacity="0.95"/>
<circle cx="675.70" cy="349.00" r="1.42" fill="#8a3428" fill-opacity="0.95"/>
<circle cx="678.60" cy="348.30" r="1.42" fill="#8a3428" fill-opacity="0.95"/>
<circle cx="673.00" cy="356.30" r="1.42" fill="#8a3428" fill-opacity="0.95"/>
<circle cx="670.50" cy="358.20" r="1.42" fill="#8a3428" fill-opacity="0.95"/>
<circle cx="673.00" cy="360.10" r="1.42" fill="#8a3428" fill-opacity="0.95"/>
<circle cx="673.00" cy="364.10" r="1.42" fill="#8a3428" fill-opacity="0.95"/>
<circle cx="669.40" cy="368.20" r="1.42" fill="#8a3428" fill-opacity="0.95"/>
<circle cx="672.20" cy="368.70" r="1.42" fill="#8a3428" fill-opacity="0.95"/>
<circle cx="675.70" cy="367.90" r="1.42" fill="#8a3428" fill-opacity="0.95"/>
<circle cx="678.80" cy="367.40" r="1.42" fill="#8a3428" fill-opacity="0.95"/>
<circle cx="674.00" cy="371.00" r="1.42" fill="#8a3428" fill-opacity="0.95"/>
<circle cx="670.30" cy="372.50" r="1.42" fill="#8a3428" fill-opacity="0.95"/>
<circle cx="673.00" cy="374.30" r="1.42" fill="#8a3428" fill-opacity="0.95"/>
<circle cx="667.30" cy="377.40" r="1.42" fill="#8a3428" fill-opacity="0.95"/>
<circle cx="669.90" cy="378.50" r="1.42" fill="#8a3428" fill-opacity="0.95"/>
<circle cx="673.00" cy="378.90" r="1.42" fill="#8a3428" fill-opacity="0.95"/>
<circle cx="676.00" cy="378.50" r="1.42" fill="#8a3428" fill-opacity="0.95"/>
<line x1="608.10" y1="240.40" x2="672.90" y2="240.40" stroke="#3a3a3a" stroke-width="0.9" />
<path d="M608.1,250.4 L640.0,250.4 L640.5,249.4 L672.9,249.4" fill="none" stroke="#3a3a3a" stroke-width="0.9"/>
<text x="640.60" y="239.70" font-size="9.3" text-anchor="middle" fill="#111" font-weight="normal" >ns</text>
<text x="624.70" y="249.80" font-size="9.3" text-anchor="middle" fill="#111" font-weight="normal" >ns</text>
<text x="656.90" y="248.90" font-size="9.3" text-anchor="middle" fill="#111" font-weight="normal" >ns</text>
<text x="608.25" y="388.40" font-size="7.2" text-anchor="middle" fill="#111" font-weight="normal" >(21)</text>
<text x="641.10" y="388.40" font-size="7.2" text-anchor="middle" fill="#111" font-weight="normal" >(24)</text>
<text x="673.30" y="388.40" font-size="7.2" text-anchor="middle" fill="#111" font-weight="normal" >(47)</text>
</svg>
</body></html>
